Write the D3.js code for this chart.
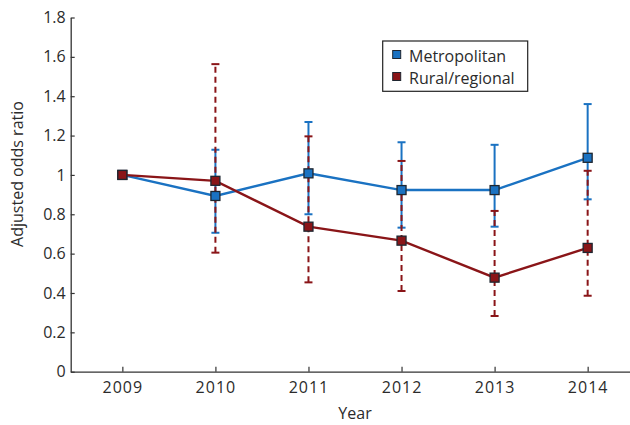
<!DOCTYPE html>
<html>
<head>
<meta charset="utf-8">
<script src="https://cdn.jsdelivr.net/npm/d3@7/dist/d3.min.js"></script>
<style>
  html, body { margin: 0; padding: 0; background: #fff; }
  svg { display: block; }
  text { font-family: "Open Sans", sans-serif; fill: #2b2b2b; }
</style>
</head>
<body>
<svg id="chart" width="630" height="425"></svg>
<script>
// Survey years
const years = [2009, 2010, 2011, 2012, 2013, 2014];

// Metropolitan: adjusted odds ratio with 95% CI
const metroOR    = [1.00, 0.893, 1.008, 0.923, 0.923, 1.087];
const metroLower = [null, 0.706, 0.800, 0.732, 0.737, 0.876];
const metroUpper = [null, 1.128, 1.269, 1.166, 1.153, 1.360];

// Rural/regional: adjusted odds ratio with 95% CI
const ruralOR    = [1.00, 0.970, 0.737, 0.666, 0.478, 0.629];
const ruralLower = [null, 0.605, 0.454, 0.410, 0.283, 0.386];
const ruralUpper = [null, 1.563, 1.196, 1.071, 0.817, 1.021];

const yTicks = [0, 0.2, 0.4, 0.6, 0.8, 1, 1.2, 1.4, 1.6, 1.8];
const yTickLabels = ["0", "0.2", "0.4", "0.6", "0.8", "1", "1.2", "1.4", "1.6", "1.8"];

const seriesNames = ["Metropolitan", "Rural/regional"];

const blue = "#1a72c2";
const red = "#8a1518";
const markerEdge = "#1e2630";

const svg = d3.select("#chart");
const plotLeft = 70.7, plotRight = 630, plotTop = 17.5, plotBottom = 371.7;

const x = d3.scaleLinear().domain([2008.445, 2014.455]).range([plotLeft, plotRight]);
const y = d3.scaleLinear().domain([0, 1.8]).range([plotBottom, plotTop]);

// Axes with inward ticks
const yAxis = d3.axisLeft(y)
  .tickValues(yTicks)
  .tickFormat((d, i) => yTickLabels[i])
  .tickSizeInner(-4).tickSizeOuter(0).tickPadding(5);
const xAxis = d3.axisBottom(x)
  .tickValues(years)
  .tickFormat(d3.format("d"))
  .tickSizeInner(-5).tickSizeOuter(0).tickPadding(9.5);

const gy = svg.append("g").attr("transform", `translate(${plotLeft},0)`).call(yAxis);
const gx = svg.append("g").attr("transform", `translate(0,${plotBottom})`).call(xAxis);
[gy, gx].forEach(g => {
  g.select(".domain").attr("stroke", "#333").attr("stroke-width", 1.3);
  g.selectAll(".tick line").attr("stroke", "#333").attr("stroke-width", 1.2);
  g.selectAll(".tick text").attr("font-size", 16).attr("fill", "#2b2b2b")
    .style("font-family", "'Open Sans', sans-serif");
});
gx.selectAll(".tick text").attr("letter-spacing", 1);

// Axis titles
svg.append("text")
  .attr("x", 355).attr("y", 419)
  .attr("text-anchor", "middle")
  .attr("font-size", 16)
  .text("Year");
svg.append("text")
  .attr("transform", "translate(23,174) rotate(-90)")
  .attr("text-anchor", "middle")
  .attr("font-size", 16)
  .text("Adjusted odds ratio");

// Error bars
function errorBars(lower, upper, color, dash) {
  const g = svg.append("g");
  const idx = years.map((d, i) => i).filter(i => lower[i] !== null);
  g.selectAll("line.bar").data(idx).join("line")
    .attr("class", "bar")
    .attr("x1", i => x(years[i])).attr("x2", i => x(years[i]))
    .attr("y1", i => y(lower[i])).attr("y2", i => y(upper[i]))
    .attr("stroke", color).attr("stroke-width", 2)
    .attr("stroke-dasharray", dash);
  ["lo", "hi"].forEach(k => {
    g.selectAll("line.cap" + k).data(idx).join("line")
      .attr("class", "cap" + k)
      .attr("x1", i => x(years[i]) - 4).attr("x2", i => x(years[i]) + 4)
      .attr("y1", i => y(k === "lo" ? lower[i] : upper[i]))
      .attr("y2", i => y(k === "lo" ? lower[i] : upper[i]))
      .attr("stroke", color).attr("stroke-width", 2);
  });
}
errorBars(metroLower, metroUpper, blue, null);
errorBars(ruralLower, ruralUpper, red, "6,4");

// Lines and square markers
const line = d3.line().x((d, i) => x(years[i])).y(d => y(d));
function series(values, color) {
  svg.append("path").datum(values)
    .attr("d", line).attr("fill", "none")
    .attr("stroke", color).attr("stroke-width", 2.4);
  svg.append("g").selectAll("rect").data(values).join("rect")
    .attr("x", (d, i) => x(years[i]) - 4.5)
    .attr("y", d => y(d) - 4.5)
    .attr("width", 9).attr("height", 9)
    .attr("fill", color).attr("stroke", markerEdge).attr("stroke-width", 1.3);
}
series(metroOR, blue);
series(ruralOR, red);

// Legend
const legend = svg.append("g");
legend.append("rect")
  .attr("x", 382.7).attr("y", 41).attr("width", 145).attr("height", 50.3)
  .attr("fill", "#fff").attr("stroke", "#222").attr("stroke-width", 1.2);
[blue, red].forEach((c, i) => {
  const cy = 54.5 + i * 22;
  legend.append("rect")
    .attr("x", 392.7).attr("y", cy - 4).attr("width", 8).attr("height", 8)
    .attr("fill", c).attr("stroke", markerEdge).attr("stroke-width", 1);
  legend.append("text")
    .attr("x", 409).attr("y", cy + 7)
    .attr("font-size", 16)
    .text(seriesNames[i]);
});
</script>
</body>
</html>
